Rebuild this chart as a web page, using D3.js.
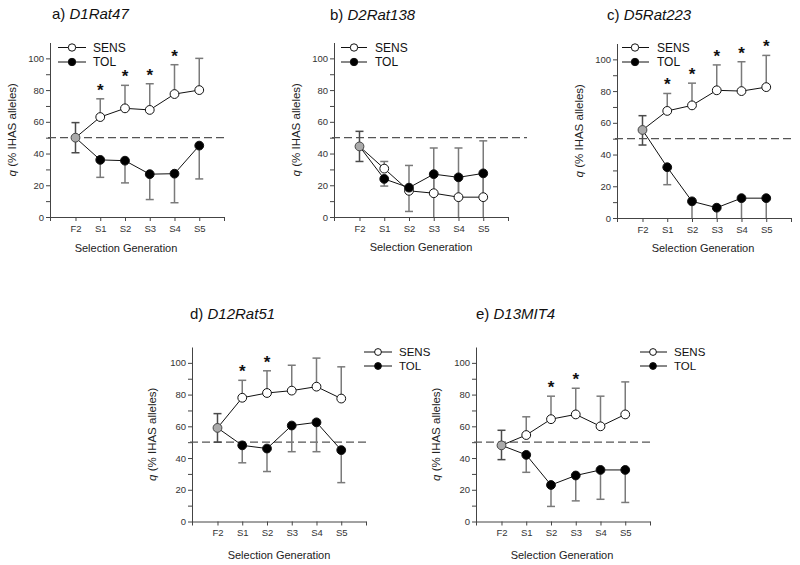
<!DOCTYPE html>
<html><head><meta charset="utf-8">
<script src="https://cdn.jsdelivr.net/npm/d3@7"></script>
<style>body{margin:0;background:#fff}svg{display:block}text{font-family:"Liberation Sans",Arial,sans-serif}</style>
</head><body><svg id="c" width="800" height="565"></svg>
<script>
const generations = ["F2","S1","S2","S3","S4","S5"];
const yTickValues = [0,10,20,30,40,50,60,70,80,90,100];
const yLabelValues = [0,20,40,60,80,100];
const seriesNames = ["SENS","TOL"];
const panelLetters = ["a)","b)","c)","d)","e)"];
const markerNames = ["D1Rat47","D2Rat138","D5Rat223","D12Rat51","D13MIT4"];
const refLine = 50;

const sensA = [50, 63, 68.5, 67.5, 77.5, 80];
const sensErrA = [59.5, 74.5, 83, 84, 96, 100];
const tolA = [50, 36, 35.5, 27, 27.3, 45];
const tolErrA = [40.5, 25, 21.5, 11, 9, 24];
const starsA = [0,1,1,1,1,0];

const sensB = [44.5, 30.5, 16.5, 15, 12.5, 12.5];
const sensErrB = [54, 35, 32.5, 43.5, 43.5, 48];
const tolB = [44.5, 24, 18.5, 27, 25, 27.5];
const tolErrB = [35, 19.5, 3.5, 0, 0, 0];
const starsB = [0,0,0,0,0,0];

const sensC = [55.5, 67.5, 71, 80.5, 80, 82.5];
const sensErrC = [64.5, 78.5, 85, 96.5, 98.5, 102.5];
const tolC = [55.5, 32, 10.5, 6.5, 12.5, 12.5];
const tolErrC = [46, 21, 0, 0, 0, 0];
const starsC = [0,1,1,1,1,1];

const sensD = [59, 78, 81, 82.5, 85, 77.5];
const sensErrD = [68, 89, 95, 98.5, 103, 97.5];
const tolD = [59, 48, 46, 60.5, 62.5, 45];
const tolErrD = [50, 37, 31.5, 44, 44, 24.5];
const starsD = [0,1,1,0,0,0];

const sensE = [48, 54.5, 64.5, 67.5, 60, 67.5];
const sensErrE = [57.5, 66, 79, 84, 79, 88];
const tolE = [48, 42, 23, 29, 32.5, 32.5];
const tolErrE = [39, 31, 9.5, 13, 14, 12];
const starsE = [0,0,1,1,0,0];

const dataSets = [
  {sens:sensA, sensErr:sensErrA, tol:tolA, tolErr:tolErrA, stars:starsA},
  {sens:sensB, sensErr:sensErrB, tol:tolB, tolErr:tolErrB, stars:starsB},
  {sens:sensC, sensErr:sensErrC, tol:tolC, tolErr:tolErrC, stars:starsC},
  {sens:sensD, sensErr:sensErrD, tol:tolD, tolErr:tolErrD, stars:starsD},
  {sens:sensE, sensErr:sensErrE, tol:tolE, tolErr:tolErrE, stars:starsE}
];

// layout
const W = 174, H = 174.5;
const layout = [
  {x:50,  y:42.5, dashEnd:226, tx:52,  ty:19,  xl:126, xlY:252, ylX:13,
   lg:{x0:58, x1:86, cx:72, tx:93, y1:47.5, y2:62, r:3.7, fs:12}},
  {x:334, y:42.5, dashEnd:527, tx:330, ty:19.5, xl:421, xlY:251, ylX:297,
   lg:{x0:341, x1:367, cx:354, tx:375, y1:47.5, y2:62, r:3.7, fs:12}},
  {x:617, y:43.5, dashEnd:792, tx:607, ty:20, xl:703, xlY:252, ylX:580,
   lg:{x0:622, x1:649, cx:635, tx:657, y1:47.5, y2:62, r:3.7, fs:12}},
  {x:192, y:347, dashEnd:367, tx:190, ty:319, xl:279, xlY:559, ylX:153,
   lg:{x0:364, x1:392, cx:378, tx:399, y1:352, y2:366, r:3.4, fs:11.5}},
  {x:476, y:347, dashEnd:651, tx:476, ty:319, xl:562, xlY:559, ylX:437,
   lg:{x0:640, x1:667, cx:653, tx:674, y1:352, y2:366, r:3.4, fs:11.5}}
];

const svg = d3.select("#c");
svg.append("rect").attr("width",800).attr("height",565).attr("fill","#fff");

const axisCol = "#444", errCol = "#7a7a7a";

layout.forEach((L, i) => {
  const D = dataSets[i];
  const x = d3.scaleLinear().domain([-1.03, 6]).range([L.x, L.x + W]);
  const y = d3.scaleLinear().domain([0, 110]).range([L.y + H, L.y]);
  const g = svg.append("g");

  // title
  const t = g.append("text").attr("x", L.tx).attr("y", L.ty).attr("font-size", 15).attr("fill", "#111");
  t.append("tspan").text(panelLetters[i] + " ");
  t.append("tspan").attr("font-style", "italic").text(markerNames[i]);

  // y axis
  const ya = g.append("g").attr("transform", `translate(${L.x},0)`)
    .call(d3.axisLeft(y).tickValues(yTickValues).tickSize(4).tickSizeOuter(0)
      .tickFormat(d => yLabelValues.includes(d) ? d : ""));
  ya.select(".domain").attr("stroke", axisCol);
  ya.selectAll(".tick line").attr("stroke", axisCol);
  ya.selectAll(".tick text").attr("font-size", 9.5).attr("fill", "#333").attr("x", -6)
    .attr("font-family", '"Liberation Sans",Arial,sans-serif');

  // x axis
  const xa = g.append("g").attr("transform", `translate(0,${L.y + H})`)
    .call(d3.axisBottom(x).tickValues([-1.03, 0, 1, 2, 3, 4, 5, 6]).tickSize(4).tickSizeOuter(0)
      .tickFormat(d => (Number.isInteger(d) && d >= 0 && d < generations.length) ? generations[d] : ""));
  xa.select(".domain").attr("stroke", axisCol);
  xa.selectAll(".tick line").attr("stroke", axisCol);
  xa.selectAll(".tick text").attr("font-size", 9.5).attr("fill", "#333").attr("y", 8)
    .attr("font-family", '"Liberation Sans",Arial,sans-serif');

  // axis labels
  g.append("text").attr("x", L.xl).attr("y", L.xlY).attr("text-anchor", "middle")
    .attr("font-size", 11).attr("fill", "#222").text("Selection Generation");
  const yl = g.append("text").attr("transform", `translate(${L.ylX},${L.y + H / 2}) rotate(-90)`)
    .attr("text-anchor", "middle").attr("dominant-baseline", "middle").attr("font-size", 11.5).attr("fill", "#222");
  yl.append("tspan").attr("font-style", "italic").text("q");
  yl.append("tspan").text(" (% IHAS alleles)");

  // reference dashed line
  g.append("line").attr("x1", L.x - 2).attr("x2", L.dashEnd).attr("y1", y(refLine)).attr("y2", y(refLine))
    .attr("stroke", "#555").attr("stroke-width", 1.3).attr("stroke-dasharray", "8,4");

  const idx = d3.range(generations.length);
  const cap = 4;
  // error bars
  function errBar(xi, v0, v1, col) {
    g.append("line").attr("x1", x(xi)).attr("x2", x(xi)).attr("y1", y(v0)).attr("y2", y(Math.max(v1, 0)))
      .attr("stroke", col).attr("stroke-width", 1.5);
    if (v1 > 0) g.append("line").attr("x1", x(xi) - cap).attr("x2", x(xi) + cap).attr("y1", y(v1)).attr("y2", y(v1))
      .attr("stroke", col).attr("stroke-width", 1.5);
  }
  idx.forEach(k => {
    if (k === 0) {
      errBar(0, D.sens[0], D.sensErr[0], "#4a4a4a");
      errBar(0, D.tol[0], D.tolErr[0], "#4a4a4a");
    } else {
      errBar(k, D.sens[k], D.sensErr[k], errCol);
      errBar(k, D.tol[k], D.tolErr[k], errCol);
    }
  });

  // lines
  const line = d3.line().x((d, k) => x(k)).y(d => y(d));
  g.append("path").datum(D.sens).attr("d", line).attr("fill", "none").attr("stroke", "#111").attr("stroke-width", 1);
  g.append("path").datum(D.tol).attr("d", line).attr("fill", "none").attr("stroke", "#111").attr("stroke-width", 1);

  // markers
  g.selectAll(null).data(D.sens.slice(1)).enter().append("circle")
    .attr("cx", (d, k) => x(k + 1)).attr("cy", d => y(d)).attr("r", 4.4)
    .attr("fill", "#fff").attr("stroke", "#111").attr("stroke-width", 1);
  g.selectAll(null).data(D.tol.slice(1)).enter().append("circle")
    .attr("cx", (d, k) => x(k + 1)).attr("cy", d => y(d)).attr("r", 4.4)
    .attr("fill", "#000").attr("stroke", "#111").attr("stroke-width", 1);
  g.append("circle").attr("cx", x(0)).attr("cy", y(D.sens[0])).attr("r", 4.4)
    .attr("fill", "#aaa").attr("stroke", "#444").attr("stroke-width", 1);

  // significance stars
  const fs = 17;
  idx.forEach(k => {
    if (D.stars[k]) {
      g.append("text").attr("x", x(k)).attr("y", y(D.sensErr[k] + 8) + 0.57 * fs)
        .attr("text-anchor", "middle").attr("font-size", fs).attr("font-weight", "bold").attr("fill", "#111").text("*");
    }
  });

  // legend
  const lg = L.lg;
  [[lg.y1, "#fff", seriesNames[0]], [lg.y2, "#000", seriesNames[1]]].forEach(([ly, fill, name]) => {
    g.append("line").attr("x1", lg.x0).attr("x2", lg.x1).attr("y1", ly).attr("y2", ly).attr("stroke", "#111");
    g.append("circle").attr("cx", lg.cx).attr("cy", ly).attr("r", lg.r).attr("fill", fill).attr("stroke", "#111");
    g.append("text").attr("x", lg.tx).attr("y", ly).attr("dominant-baseline", "central")
      .attr("font-size", lg.fs).attr("fill", "#111").text(name);
  });
});
</script></body></html>
